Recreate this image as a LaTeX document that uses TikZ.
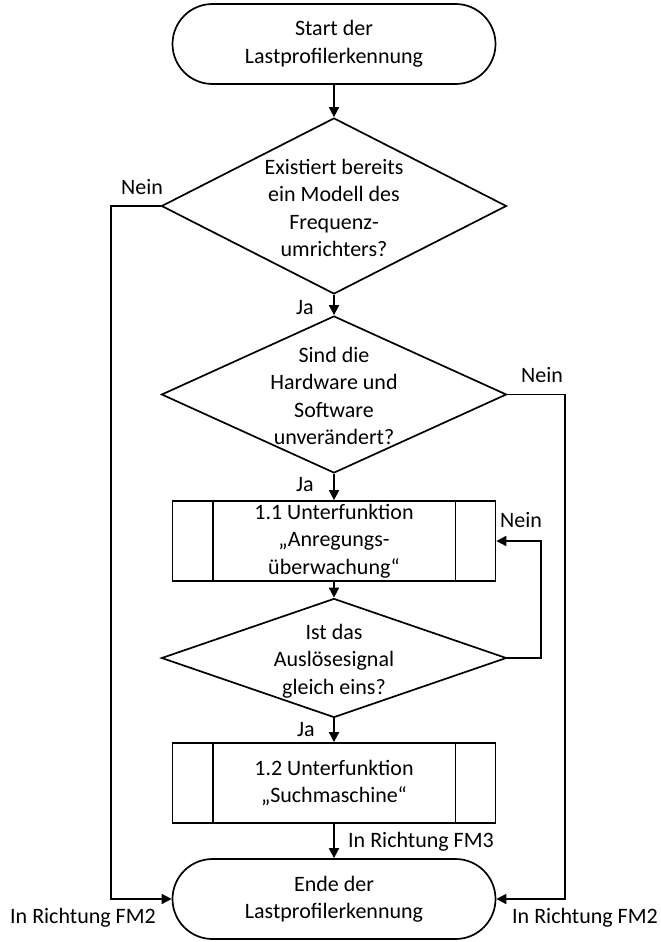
\documentclass[tikz,border=0pt]{standalone}
\usepackage{fontspec}
\setmainfont{Carlito}
\usetikzlibrary{shapes.geometric,arrows.meta}
\tikzset{
  every node/.style={font=\fontsize{22}{27.5}\selectfont},
  term/.style={draw, line width=1.7pt, rounded corners=40pt, minimum width=323pt, minimum height=80pt, inner sep=0pt, align=center},
  dec/.style={draw, line width=1.7pt, diamond, minimum width=345pt, inner sep=0pt},
  proc/.style={draw, line width=1.7pt, minimum width=323pt, minimum height=80pt, inner sep=0pt, align=center},
  txt/.style={align=center, inner sep=0pt},
  lbl/.style={inner sep=0pt},
  arr/.style={line width=1.7pt, -{Triangle[length=10pt,width=10pt]}},
  ln/.style={line width=1.7pt}
}
\begin{document}
\begin{tikzpicture}[x=1pt,y=-1pt]
\useasboundingbox (0,0) rectangle (661,942);
\node[term] (s) at (334,44) {Start der\\Lastprofilerkennung};
\node[dec, minimum height=176pt] (d1) at (334,206) {};
\node[txt] (d1t) at (334,208) {Existiert bereits\\ein Modell des\\Frequenz-\\umrichters?};
\node[dec, minimum height=157pt] (d2) at (334,394.5) {};
\node[txt] (d2t) at (334,396) {Sind die\\Hardware und\\Software\\unverändert?};
\node[proc] (b1) at (334,541) {1.1 Unterfunktion\\„Anregungs-\\überwachung“};
\node[dec, minimum height=119pt] (d3) at (334,658) {};
\node[txt] (d3t) at (334,661) {Ist das\\Auslösesignal\\gleich eins?};
\node[proc] (b2) at (334,783) {1.2 Unterfunktion\\„Suchmaschine“};
\node[term] (e) at (334,899) {Ende der\\Lastprofilerkennung};

\draw[ln] ([xshift=41pt]b1.north west) -- ([xshift=41pt]b1.south west);
\draw[ln] ([xshift=-41pt]b1.north east) -- ([xshift=-41pt]b1.south east);
\draw[ln] ([xshift=41pt]b2.north west) -- ([xshift=41pt]b2.south west);
\draw[ln] ([xshift=-41pt]b2.north east) -- ([xshift=-41pt]b2.south east);

\coordinate (l1) at (111,206);
\coordinate (l2) at (111,899);
\coordinate (r1) at (565,394.5);
\coordinate (r2) at (565,899);
\coordinate (f1) at (541,658);
\coordinate (f2) at (541,541);

\draw[arr] (s) -- (d1);
\draw[arr] (d1) -- (d2);
\draw[arr] (d2) -- (b1);
\draw[arr] (b1) -- (d3);
\draw[arr] (d3) -- (b2);
\draw[arr] (b2) -- (e);
\draw[arr] (d1.west) -- (l1) -- (l2) -- (e.west);
\draw[arr] (d2.east) -- (r1) -- (r2) -- (e.east);
\draw[arr] (d3.east) -- (f1) -- (f2) -- (b1.east);

\node[lbl] (n1) at (142,187) {Nein};
\node[lbl] (j1) at (305,308) {Ja};
\node[lbl] (n2) at (542,375) {Nein};
\node[lbl] (j2) at (305,485) {Ja};
\node[lbl] (n3) at (521,520) {Nein};
\node[lbl] (j3) at (306,730) {Ja};
\node[lbl, anchor=west] (fm3) at (348,842) {In Richtung FM3};
\node[lbl] (fm2l) at (83,918) {In Richtung FM2};
\node[lbl] (fm2r) at (585,918) {In Richtung FM2};
\end{tikzpicture}
\end{document}
